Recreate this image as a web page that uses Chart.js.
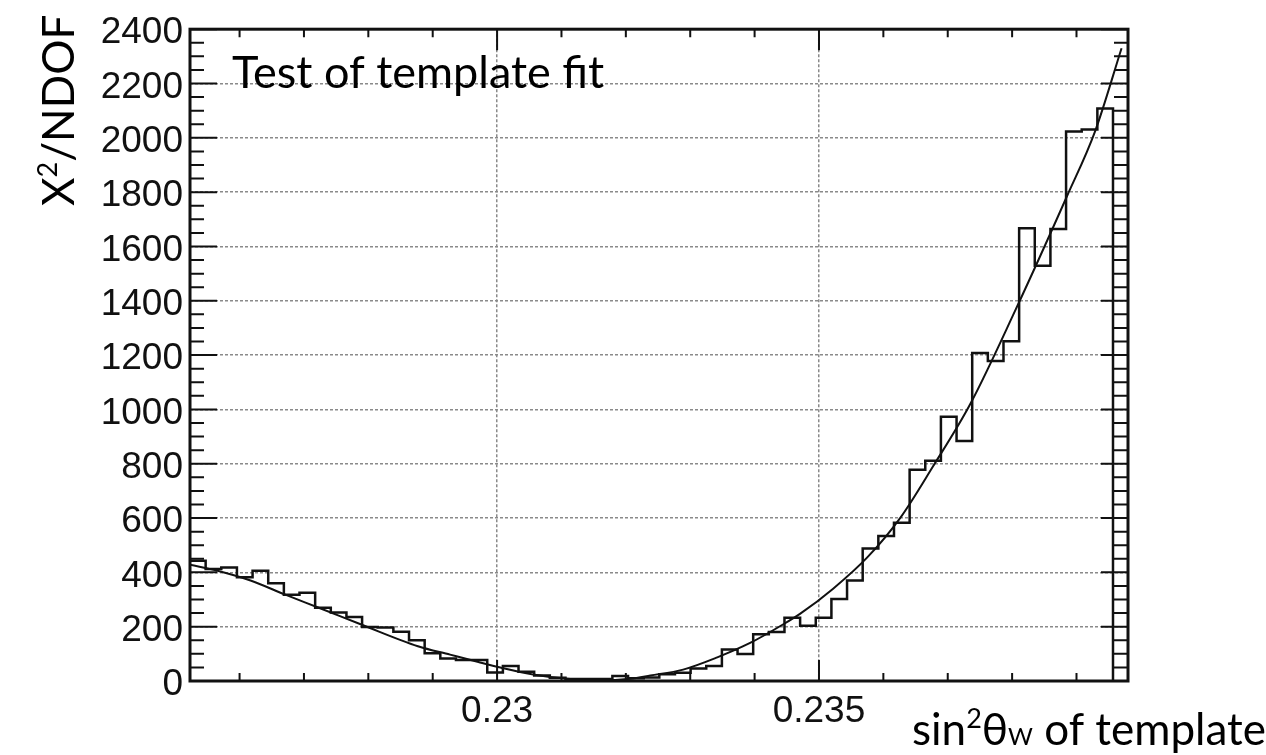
<!DOCTYPE html>
<html>
<head>
<meta charset="utf-8">
<script src="https://cdn.jsdelivr.net/npm/chart.js@4.4.0/dist/chart.umd.min.js"></script>
<style>
  html, body { margin: 0; padding: 0; background: #fff; }
</style>
</head>
<body>
<canvas id="fitChart" width="1266" height="755"></canvas>
<script>
// template binning in sin^2(theta_W)
var binStart = 0.22523;
var binWidth = 0.000243;

// chi2/NDOF of each template bin
var chi2Values = [
  443, 412, 418, 382, 406, 360, 318, 325, 270, 252,
  236, 199, 197, 181, 150, 102, 83, 77, 77, 31,
  55, 34, 20, 12, 7, 7, 7, 18, 10, 13,
  25, 30, 46, 55, 116, 99, 172, 180, 233, 203,
  233, 302, 370, 488, 534, 583, 778, 811, 973, 884,
  1208, 1178, 1251, 1667, 1529, 1664, 2023, 2031, 2108
];

// smooth fit through the histogram
var fitX = [0.22523, 0.22567, 0.22617, 0.22671, 0.22725, 0.2279, 0.22877, 0.22927, 0.22971, 0.23005,
            0.23056, 0.23109, 0.2316, 0.23207, 0.23238, 0.23289, 0.23342, 0.23393, 0.23444, 0.23471,
            0.23522, 0.23575, 0.23626, 0.23677, 0.23735, 0.23804, 0.23885, 0.23929, 0.2397];
var fitY = [428, 405, 370, 318, 268, 207, 128, 97, 70, 50,
            24, 8, 2, 8, 20, 42, 87, 140, 208, 248,
            340, 455, 600, 790, 1020, 1360, 1784, 2025, 2330];

var xLabelTicks = [0.23, 0.235];

var histPoints = chi2Values.map(function(v, i) {
  return { x: binStart + i * binWidth, y: v };
});
var lastEdge = binStart + chi2Values.length * binWidth;
histPoints.push({ x: lastEdge, y: chi2Values[chi2Values.length - 1] });
histPoints.push({ x: lastEdge, y: 0 });

var fitPoints = fitX.map(function(x, i) { return { x: x, y: fitY[i] }; });

// draw a row of text pieces (for super/subscripts)
function drawRuns(ctx, x, y, runs) {
  runs.forEach(function(r) {
    ctx.font = r.size + 'px Lato, "DejaVu Sans", sans-serif';
    ctx.fillText(r.text, x, y + (r.dy || 0));
    x += ctx.measureText(r.text).width;
  });
}

var frameAndTicks = {
  id: 'frameAndTicks',
  afterDraw: function(chart) {
    var ctx = chart.ctx, a = chart.chartArea;
    var xs = chart.scales.x, ys = chart.scales.y;
    ctx.save();
    ctx.strokeStyle = '#111';
    ctx.lineWidth = 2;
    ctx.beginPath();
    for (var v = 0; v <= 2400; v += 50) {
      var py = ys.getPixelForValue(v);
      var len = v % 200 === 0 ? 27 : 14;
      ctx.moveTo(a.left, py); ctx.lineTo(a.left + len, py);
      ctx.moveTo(a.right, py); ctx.lineTo(a.right - len, py);
    }
    for (var i = 226; i <= 239; i++) {
      var px = xs.getPixelForValue(i / 1000);
      var l = (i === 230 || i === 235) ? 21 : 8;
      ctx.moveTo(px, a.bottom); ctx.lineTo(px, a.bottom - l);
      ctx.moveTo(px, a.top); ctx.lineTo(px, a.top + l);
    }
    ctx.stroke();
    ctx.lineWidth = 3;
    ctx.strokeRect(a.left, a.top, a.right - a.left, a.bottom - a.top);

    ctx.fillStyle = '#000';
    ctx.textBaseline = 'alphabetic';
    ctx.font = '45px Lato, "DejaVu Sans", sans-serif';
    ctx.fillText('Test of template fit', 232, 88);

    drawRuns(ctx, 912, 745, [
      { text: 'sin', size: 44 },
      { text: '2', size: 27, dy: -17 },
      { text: '\u03b8', size: 44 },
      { text: 'W', size: 24 },
      { text: ' of template', size: 44 }
    ]);

    ctx.translate(74, 206);
    ctx.rotate(-Math.PI / 2);
    drawRuns(ctx, 0, 0, [
      { text: '\u03a7', size: 44 },
      { text: '2', size: 27, dy: -17 },
      { text: '/NDOF', size: 44 }
    ]);
    ctx.restore();
  }
};

var tickFont = { family: '"Liberation Sans", Arial, sans-serif', size: 37 };

var ctx = document.getElementById('fitChart').getContext('2d');
var myChart = new Chart(ctx, {
  type: 'line',
  data: {
    datasets: [{
      label: 'templates',
      data: histPoints,
      stepped: true,
      borderColor: '#111',
      borderWidth: 2.5,
      pointRadius: 0,
      fill: false
    }, {
      label: 'fit',
      data: fitPoints,
      cubicInterpolationMode: 'monotone',
      borderColor: '#111',
      borderWidth: 2,
      pointRadius: 0,
      fill: false
    }]
  },
  options: {
    responsive: false,
    animation: false,
    layout: { padding: { top: 27, right: 138, left: 0, bottom: 0 } },
    plugins: { legend: { display: false }, tooltip: { enabled: false } },
    scales: {
      x: {
        type: 'linear',
        min: 0.22523,
        max: 0.2398,
        afterBuildTicks: function(s) {
          s.ticks = xLabelTicks.map(function(v) { return { value: v }; });
        },
        afterFit: function(s) { s.height = 74; },
        grid: { color: '#8a8a8a', lineWidth: 1.5, drawTicks: false },
        border: { display: false, dash: [3, 2] },
        ticks: {
          padding: 9,
          font: tickFont,
          color: '#111',
          maxRotation: 0,
          autoSkip: false,
          callback: function(v) { return String(v); }
        }
      },
      y: {
        min: 0,
        max: 2400,
        afterFit: function(s) { s.width = 190; },
        grid: { color: '#8a8a8a', lineWidth: 1.5, drawTicks: false },
        border: { display: false, dash: [3, 2] },
        ticks: {
          stepSize: 200,
          padding: 7,
          labelOffset: 4,
          font: tickFont,
          color: '#111',
          callback: function(v) { return String(v); }
        }
      }
    }
  },
  plugins: [frameAndTicks]
});
</script>
</body>
</html>
